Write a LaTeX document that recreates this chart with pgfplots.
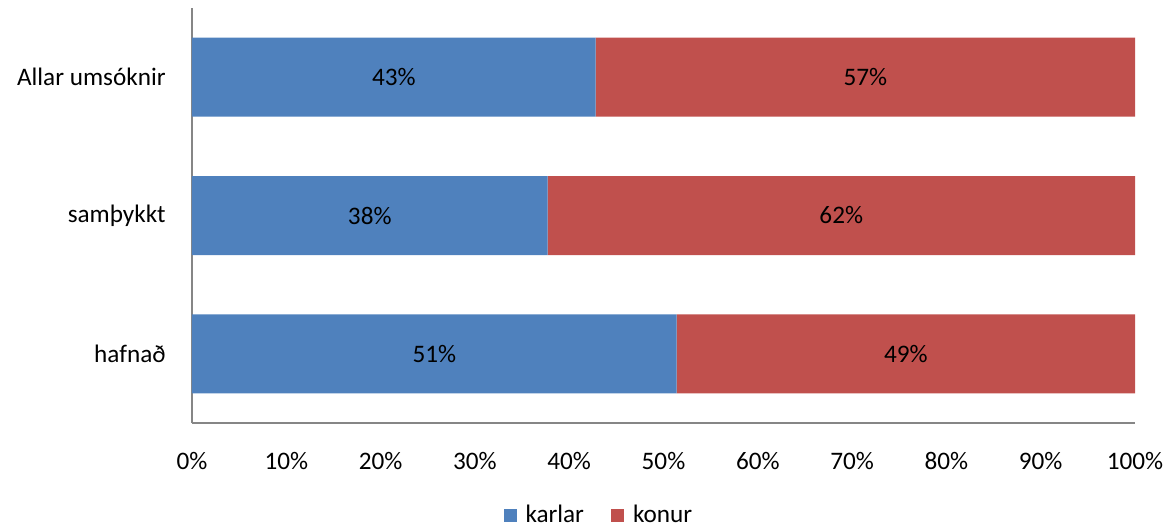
\documentclass[border=0pt]{standalone}
\usepackage{pgfplots}
\pgfplotsset{compat=1.18}
\usepackage{pgfplotstable}
\usepackage{fontspec}
\setmainfont{Carlito}
\definecolor{cblue}{HTML}{4F81BD}
\definecolor{cred}{HTML}{C0504D}
\definecolor{axgray}{HTML}{868686}
\pgfplotstableread{
pos karlar konur lk lf
2 42.8 57.2 43 57
1 37.7 62.3 38 62
0 51.4 48.6 51 49
}\data
\newcommand{\cf}{\fontsize{12.6}{14}\selectfont}
\begin{document}
\begin{tikzpicture}
\path[use as bounding box] (-96pt,-51.5pt) rectangle (490.5pt,211.5pt);
\begin{axis}[
  at={(0,0)}, anchor=south west,
  scale only axis, width=471.5pt, height=207.5pt,
  xbar stacked, bar width=39.5pt,
  xmin=0, xmax=100, ymin=-0.5, ymax=2.5,
  axis x line*=bottom, axis y line*=left,
  axis line style={axgray, line width=1pt},
  xtick={0,10,...,100},
  xticklabel={\pgfmathprintnumber{\tick}\%},
  ytick={0,1,2},
  yticklabels={hafnað, samþykkt, Allar umsóknir},
  major tick length=0pt,
  /pgf/number format/assume math mode=true,
  tick label style={font=\cf, text=black},
  xticklabel style={inner sep=0pt, yshift=-14.5pt},
  yticklabel style={inner sep=0pt, xshift=-13pt},
  nodes near coords={\pgfmathprintnumber{\pgfplotspointmeta}\%},
  point meta=explicit,
  every node near coord/.append style={font=\cf, text=black, anchor=center},
  legend style={draw=none, fill=none, at={(0.4325,-0.2217)}, anchor=center,
    legend columns=2, font=\cf,
    /tikz/every odd column/.append style={column sep=2.5pt},
    /tikz/every even column/.append style={column sep=11.5pt}},
  legend image code/.code={\fill[#1] (0pt,-3.25pt) rectangle (6.5pt,3.25pt);},
]
\addplot[fill=cblue, draw=none] table[x=karlar, y=pos, meta=lk] {\data};
\addplot[fill=cred, draw=none] table[x=konur, y=pos, meta=lf] {\data};
\legend{karlar, konur}
\end{axis}
\end{tikzpicture}
\end{document}
